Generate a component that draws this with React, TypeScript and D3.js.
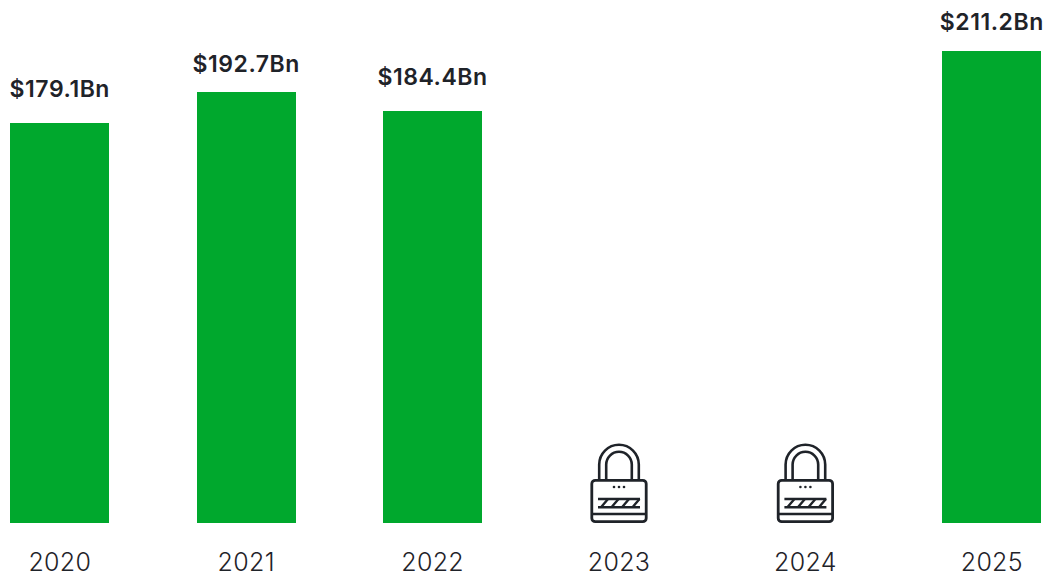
import { useEffect, useRef } from 'react';
import * as d3 from 'd3';

const years = ['2020', '2021', '2022', '2023', '2024', '2025'];
const revenue: (number | null)[] = [179.1, 192.7, 184.4, null, null, 211.2];
const labelGaps = [26, 20.5, 26, 0, 0, 21];

const width = 1051;
const height = 577;
const baseline = 523;
const GREEN = '#00a82d';
const INK = '#1f2329';
const FONT = "Inter, 'Open Sans', sans-serif";

// padlock glyph, drawn around (0,0) = bottom centre of the body
function drawLock(group: d3.Selection<SVGGElement, unknown, null, undefined>) {
  const stroke = (sel: d3.Selection<any, unknown, null, undefined>, w: number) =>
    sel.attr('fill', 'none').attr('stroke', INK).attr('stroke-width', w);

  stroke(group.append('rect'), 2.8)
    .attr('x', -27.2)
    .attr('y', -42.7)
    .attr('width', 54.4)
    .attr('height', 41.4)
    .attr('rx', 3.5);
  stroke(group.append('path'), 2.6).attr('d', 'M-19.8,-44 V-58.4 A19.8,19.8 0 0 1 19.8,-58.4 V-44');
  stroke(group.append('path'), 2.6).attr('d', 'M-12.8,-44 V-58.4 A12.8,12.8 0 0 1 12.8,-58.4 V-44');
  stroke(group.append('path'), 2.4).attr('d', 'M-27,-9 H27');
  stroke(group.append('path'), 2.4).attr('d', 'M-21,-24 H21 M-21,-15.8 H21');
  stroke(group.append('path'), 2.4).attr(
    'd',
    'M-18,-15.8 L-11,-24 M-7.5,-15.8 L-0.5,-24 M3,-15.8 L10,-24 M13.5,-15.8 L20.5,-24',
  );
  group
    .selectAll('circle')
    .data([-5, 0, 5])
    .join('circle')
    .attr('cx', (d) => d)
    .attr('cy', -36)
    .attr('r', 1.3)
    .attr('fill', INK);
}

export default function App() {
  const svgRef = useRef<SVGSVGElement>(null);

  useEffect(() => {
    if (!svgRef.current) return;
    const svg = d3.select(svgRef.current);
    svg.selectAll('*').remove();

    const x = d3.scaleBand<string>().domain(years).range([10.3, 1041.3]).paddingInner(0.469).paddingOuter(0);
    const y = d3.scaleLinear().domain([0, 211.2]).range([baseline, 51]);

    const rows = years.map((year, i) => ({ year, value: revenue[i], gap: labelGaps[i] }));
    const known = rows.filter((d) => d.value !== null);
    const locked = rows.filter((d) => d.value === null);

    svg
      .append('g')
      .selectAll('rect')
      .data(known)
      .join('rect')
      .attr('x', (d) => x(d.year) ?? 0)
      .attr('y', (d) => y(d.value as number))
      .attr('width', x.bandwidth())
      .attr('height', (d) => baseline - y(d.value as number))
      .attr('fill', GREEN)
      .attr('shape-rendering', 'crispEdges');

    svg
      .append('g')
      .selectAll('text')
      .data(known)
      .join('text')
      .attr('x', (d) => (x(d.year) ?? 0) + x.bandwidth() / 2)
      .attr('y', (d) => y(d.value as number) - d.gap)
      .attr('text-anchor', 'middle')
      .attr('fill', INK)
      .attr('font-family', FONT)
      .attr('font-size', 23)
      .attr('font-weight', 600)
      .attr('letter-spacing', 0.55)
      .text((d) => `$${(d.value as number).toFixed(1)}Bn`);

    locked.forEach((d) => {
      const g = svg
        .append('g')
        .attr('transform', `translate(${(x(d.year) ?? 0) + x.bandwidth() / 2},${baseline})`);
      drawLock(g);
    });

    svg
      .append('g')
      .attr('transform', `translate(0,${baseline})`)
      .call(d3.axisBottom(x).tickSize(0).tickPadding(30))
      .call((group) => {
        group.select('.domain').remove();
        group
          .selectAll('.tick text')
          .attr('fill', INK)
          .attr('font-family', FONT)
          .attr('font-size', 25)
          .attr('font-weight', 300)
          .attr('letter-spacing', 0.3);
      });
  }, []);

  return (
    <svg
      ref={svgRef}
      width={width}
      height={height}
      viewBox={`0 0 ${width} ${height}`}
      style={{ position: 'absolute', left: 0, top: 0 }}
    />
  );
}
